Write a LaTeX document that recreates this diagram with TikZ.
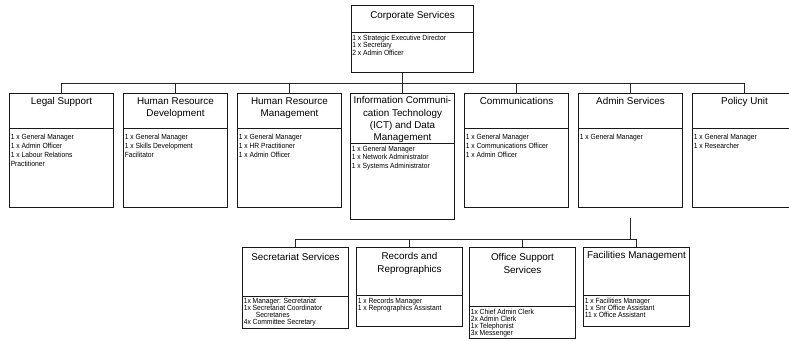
\documentclass[tikz,border=0pt]{standalone}
\usepackage{fontspec}
\setmainfont{Liberation Sans}
\newfontfamily\stafffont[FakeStretch=0.9]{Liberation Sans}
\usetikzlibrary{calc}
\newcommand{\tightlines}{\lineskiplimit=-10pt\relax}
\begin{document}
\begin{tikzpicture}[x=0.75pt,y=-0.75pt,
  unitframe/.style={draw=black!90, line width=0.75pt, inner sep=0pt, anchor=north west},
  divider/.style={draw=black!90, line width=0.75pt},
  link/.style={draw=black!85, line width=0.75pt},
  unittitle/.style={inner sep=0pt, anchor=north, align=center, font={\fontsize{7.4pt}{9.5pt}\selectfont}},
  staffwide/.style={inner sep=0pt, anchor=north west, align=left, font={\stafffont\fontsize{5.6pt}{6.75pt}\selectfont\tightlines}},
  stafftight/.style={inner sep=0pt, anchor=north west, align=left, font={\stafffont\fontsize{5.6pt}{5.2pt}\selectfont\tightlines}},
]
% page frame
\useasboundingbox (0,0) rectangle (789,340);
\fill[white] (0,0) rectangle (789,340);
\clip (0,0) rectangle (789,340);

% bus levels
\coordinate (topbus) at (0,83);
\coordinate (lowbus) at (0,239);

% ---- head office ----
\node[unitframe, minimum width=122*0.75pt, minimum height=67*0.75pt] (corp) at (351,5) {};
\draw[divider] (corp.west |- 0,32) -- (corp.east |- 0,32);
\node[unittitle] (corp-title) at (corp.north |- 0,11.4) {Corporate Services};
\node[stafftight, font={\stafffont\fontsize{5.6pt}{5.6pt}\selectfont\tightlines}] (corp-staff) at (352,34.5) {1 x Strategic Executive Director\\1 x Secretary\\2 x Admin Officer};

% ---- directorates ----
\node[unitframe, minimum width=104*0.75pt, minimum height=114*0.75pt] (legal) at (9,93) {};
\draw[divider] (legal.west |- 0,128) -- (legal.east |- 0,128);
\node[unittitle] (legal-title) at (legal.north |- 0,97) {Legal Support};
\node[staffwide] (legal-staff) at (10.5,134) {1 x General Manager\\1 x Admin Officer\\1 x Labour Relations\\Practitioner};

\node[unitframe, minimum width=104*0.75pt, minimum height=114*0.75pt] (hrd) at (123,93) {};
\draw[divider] (hrd.west |- 0,128) -- (hrd.east |- 0,128);
\node[unittitle] (hrd-title) at (hrd.north |- 0,97) {Human Resource\\Development};
\node[staffwide] (hrd-staff) at (124.5,134) {1 x General Manager\\1 x Skills Development\\Facilitator};

\node[unitframe, minimum width=104*0.75pt, minimum height=114*0.75pt] (hrm) at (237,93) {};
\draw[divider] (hrm.west |- 0,128) -- (hrm.east |- 0,128);
\node[unittitle] (hrm-title) at (hrm.north |- 0,97) {Human Resource\\Management};
\node[staffwide] (hrm-staff) at (238.5,134) {1 x General Manager\\1 x HR Practitioner\\1 x Admin Officer};

\node[unitframe, minimum width=104*0.75pt, minimum height=126*0.75pt] (ict) at (350,93) {};
\draw[divider] (ict.west |- 0,143) -- (ict.east |- 0,143);
\node[unittitle, font={\fontsize{7.4pt}{9.2pt}\selectfont}] (ict-title) at (ict.north |- 0,96.5) {Information Communi-\\cation Technology\\(ICT) and Data\\Management};
\node[staffwide, font={\stafffont\fontsize{5.6pt}{6.45pt}\selectfont\tightlines}] (ict-staff) at (351.5,145.5) {1 x General Manager\\1 x Network Administrator\\1 x Systems Administrator};

\node[unitframe, minimum width=104*0.75pt, minimum height=114*0.75pt] (comms) at (464,93) {};
\draw[divider] (comms.west |- 0,128) -- (comms.east |- 0,128);
\node[unittitle] (comms-title) at (comms.north |- 0,97) {Communications};
\node[staffwide] (comms-staff) at (465.5,134) {1 x General Manager\\1 x Communications Officer\\1 x Admin Officer};

\node[unitframe, minimum width=104*0.75pt, minimum height=114*0.75pt] (admin) at (578,93) {};
\draw[divider] (admin.west |- 0,128) -- (admin.east |- 0,128);
\node[unittitle] (admin-title) at (admin.north |- 0,97) {Admin Services};
\node[staffwide] (admin-staff) at (579.5,134) {1 x General Manager};

\node[unitframe, minimum width=104*0.75pt, minimum height=114*0.75pt] (policy) at (692,93) {};
\draw[divider] (policy.west |- 0,128) -- (policy.east |- 0,128);
\node[unittitle] (policy-title) at (policy.north |- 0,97) {Policy Unit};
\node[staffwide] (policy-staff) at (693.5,134) {1 x General Manager\\1 x Researcher};

% ---- admin sub-units ----
\node[unitframe, minimum width=106*0.75pt, minimum height=81*0.75pt] (secr) at (242,247) {};
\draw[divider] (secr.west |- 0,296) -- (secr.east |- 0,296);
\node[unittitle] (secr-title) at (secr.north |- 0,253) {Secretariat Services};
\node[stafftight] (secr-staff) at (243.5,297.6) {1x Manager: Secretariat\\1x Secretariat Coordinator\\\hspace*{9pt}Secretaries\\4x Committee Secretary};

\node[unitframe, minimum width=106*0.75pt, minimum height=79*0.75pt] (recs) at (356,247) {};
\draw[divider] (recs.west |- 0,295) -- (recs.east |- 0,295);
\node[unittitle] (recs-title) at (recs.north |- 0,252.5) {Records and\\Reprographics};
\node[stafftight] (recs-staff) at (357.5,297.6) {1 x Records Manager\\1 x Reprographics Assistant};

\node[unitframe, minimum width=106*0.75pt, minimum height=91*0.75pt] (osupp) at (469,247) {};
\draw[divider] (osupp.west |- 0,306.5) -- (osupp.east |- 0,306.5);
\node[unittitle] (osupp-title) at (osupp.north |- 0,253) {Office Support\\Services};
\node[stafftight] (osupp-staff) at (470.5,308.8) {1x Chief Admin Clerk\\2x Admin Clerk\\1x Telephonist\\3x Messenger};

\node[unitframe, minimum width=106*0.75pt, minimum height=79*0.75pt] (facil) at (583,247) {};
\draw[divider] (facil.west |- 0,295) -- (facil.east |- 0,295);
\node[unittitle] (facil-title) at (facil.north |- 0,251.5) {Facilities Management};
\node[stafftight] (facil-staff) at (584.5,297.6) {1 x Facilities Manager\\1 x Snr Office Assistant\\11 x Office Assistant};

% ---- reporting lines ----
\draw[link] (ict.north) -- (corp.south -| ict.north);
\draw[link] (legal.north) |- (policy.north |- topbus) -- (policy.north);
\foreach \unit in {hrd,hrm,comms,admin}
  \draw[link] (\unit.north) -- (\unit.north |- topbus);

\coordinate (admindrop) at ($(admin.south)+(0,10)$);
\draw[link] (admindrop) -- (admindrop |- lowbus);
\draw[link] (secr.north) |- (facil.north |- lowbus) -- (facil.north);
\foreach \unit in {recs,osupp}
  \draw[link] (\unit.north) -- (\unit.north |- lowbus);
\end{tikzpicture}
\end{document}
